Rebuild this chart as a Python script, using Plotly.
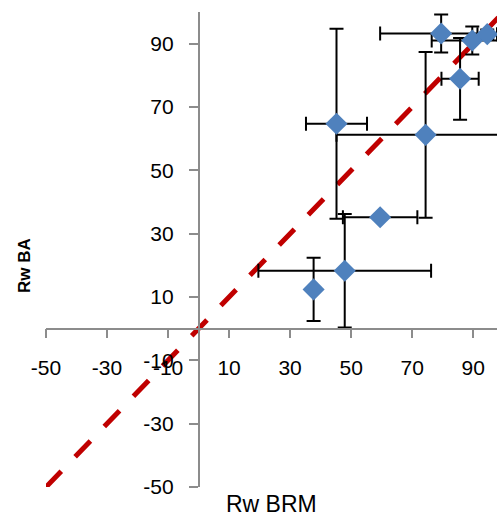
import plotly.graph_objects as go

# Data
x_vals = [37.7, 47.9, 59.5, 74.4, 45.2, 85.7, 79.5, 89.7, 94.6]
y_vals = [12.4, 18.3, 35.2, 61.2, 64.7, 78.9, 93.2, 91.0, 93.0]
x_err = [0.0, 28.3, 12.2, 29.2, 10.0, 6.1, 20.0, 13.3, 3.2]
y_err = [10.0, 17.9, 0.0, 26.2, 30.0, 12.9, 6.0, 4.4, 1.5]
ref_line = [-50, 100]
tick_vals = [-50, -30, -10, 10, 30, 50, 70, 90]
tick_text = ["-50", "-30", "-10", "10", "30", "50", "70", "90"]
x_range = [-50, 97.8]
y_range = [-50, 100]

fig = go.Figure()

fig.add_trace(go.Scatter(
    x=ref_line, y=ref_line, mode="lines",
    line=dict(color="#C00000", width=5, dash="22px,20px"),
    hoverinfo="skip", showlegend=False,
))

fig.add_trace(go.Scatter(
    x=x_vals, y=y_vals, mode="markers",
    marker=dict(symbol="diamond", size=17, color="#4F81BD"),
    error_x=dict(type="data", array=x_err, visible=True, color="black", thickness=2, width=7),
    error_y=dict(type="data", array=y_err, visible=True, color="black", thickness=2, width=7),
    showlegend=False,
))

tick_font = dict(family="Liberation Sans", size=21, color="black")
axis_common = dict(
    tickvals=tick_vals, ticktext=tick_text, showline=True, linecolor="#8C8C8C", linewidth=1.5,
    ticks="outside", ticklen=9, tickcolor="#8C8C8C", tickwidth=1.5,
    showgrid=False, zeroline=False, tickfont=tick_font, anchor="free", automargin=False,
)

fig.update_layout(
    width=497, height=516,
    margin=dict(l=46, r=0, t=12, b=29, autoexpand=False),
    paper_bgcolor="white", plot_bgcolor="white",
    xaxis=dict(range=x_range, position=(0 - y_range[0]) / (y_range[1] - y_range[0]),
               ticklabelstandoff=11, **axis_common),
    yaxis=dict(range=y_range, position=(0 - x_range[0]) / (x_range[1] - x_range[0]),
               ticklabelstandoff=11, **axis_common),
    annotations=[
        dict(text="<b>Rw BA</b>", x=-0.049, y=0.467, xref="paper", yref="paper",
             xanchor="center", yanchor="middle",
             textangle=-90, showarrow=False, font=dict(family="Liberation Sans", size=17, color="black")),
        dict(text="Rw BRM", x=0.501, y=-0.036, xref="paper", yref="paper",
             xanchor="center", yanchor="middle",
             showarrow=False, font=dict(family="Liberation Sans", size=23, color="black")),
    ],
)

fig.write_html(
    "out.html",
    config={"displayModeBar": False},
    post_script="document.body.style.margin='0';document.documentElement.style.overflow='hidden';document.body.style.overflow='hidden';",
)
